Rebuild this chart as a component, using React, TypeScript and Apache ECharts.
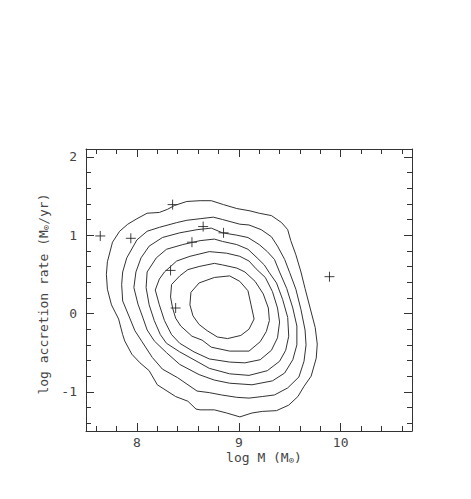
import React, { useEffect, useRef } from "react";
import * as echarts from "echarts";

const xMin = 7.5;
const xMax = 10.7;
const yMin = -1.5;
const yMax = 2.1;

const xMajorTicks = [8, 9, 10];
const xMinorTicks = [7.6, 7.8, 8.2, 8.4, 8.6, 8.8, 9.2, 9.4, 9.6, 9.8, 10.2, 10.4, 10.6];
const yMajorTicks = [-1, 0, 1, 2];
const yMinorTicks = [-1.4, -1.2, -0.8, -0.6, -0.4, -0.2, 0.2, 0.4, 0.6, 0.8, 1.2, 1.4, 1.6, 1.8];

const xTitle = "log M (M{s|⊙})";
const yTitle = "log accretion rate (M{s|⊙}/yr)";

const contour1 = [
  [7.70, 0.50], [7.71, 0.66], [7.76, 0.91], [7.83, 1.05], [7.91, 1.14], [8.00, 1.21],
  [8.10, 1.28], [8.22, 1.29], [8.30, 1.33], [8.37, 1.38], [8.49, 1.43], [8.62, 1.44],
  [8.73, 1.44], [8.85, 1.39], [8.98, 1.34], [9.11, 1.31], [9.20, 1.28], [9.32, 1.25],
  [9.42, 1.16], [9.48, 1.07], [9.51, 0.93], [9.56, 0.75], [9.61, 0.53], [9.65, 0.32],
  [9.70, 0.07], [9.75, -0.18], [9.77, -0.39], [9.76, -0.57], [9.71, -0.80], [9.64, -0.93],
  [9.58, -1.06], [9.49, -1.17], [9.37, -1.24], [9.23, -1.25], [9.13, -1.27], [9.01, -1.32],
  [8.88, -1.27], [8.76, -1.23], [8.62, -1.23], [8.58, -1.22], [8.50, -1.12], [8.38, -1.06],
  [8.20, -0.91], [8.12, -0.73], [8.03, -0.63], [7.95, -0.52], [7.88, -0.35], [7.86, -0.27],
  [7.82, -0.07], [7.75, 0.11], [7.71, 0.31], [7.70, 0.50]
];
const contour2 = [
  [7.86, 0.53], [7.90, 0.71], [8.00, 0.94], [8.10, 1.05], [8.22, 1.10], [8.39, 1.16],
  [8.49, 1.19], [8.62, 1.21], [8.75, 1.23], [8.84, 1.20], [9.01, 1.14], [9.10, 1.13],
  [9.22, 1.07], [9.32, 0.98], [9.38, 0.86], [9.45, 0.69], [9.50, 0.52], [9.56, 0.31],
  [9.61, 0.05], [9.65, -0.21], [9.66, -0.40], [9.64, -0.61], [9.59, -0.81], [9.48, -0.95],
  [9.35, -1.04], [9.23, -1.06], [9.10, -1.08], [8.98, -1.07], [8.83, -1.04], [8.71, -1.01],
  [8.59, -0.99], [8.40, -0.82], [8.25, -0.71], [8.15, -0.56], [8.05, -0.36], [7.98, -0.22],
  [7.93, -0.06], [7.86, 0.16], [7.85, 0.37], [7.86, 0.53]
];
const contour3 = [
  [7.99, 0.53], [8.04, 0.71], [8.12, 0.86], [8.25, 0.97], [8.42, 1.03], [8.59, 1.07],
  [8.73, 1.09], [8.84, 1.03], [8.98, 1.00], [9.09, 0.97], [9.20, 0.88], [9.28, 0.79],
  [9.35, 0.69], [9.40, 0.53], [9.47, 0.32], [9.53, 0.07], [9.57, -0.16], [9.57, -0.40],
  [9.53, -0.59], [9.45, -0.76], [9.33, -0.86], [9.13, -0.91], [8.91, -0.89], [8.76, -0.85],
  [8.61, -0.78], [8.42, -0.65], [8.29, -0.50], [8.17, -0.35], [8.10, -0.21], [8.06, -0.06],
  [8.01, 0.12], [7.97, 0.33], [7.99, 0.53]
];
const contour4 = [
  [8.10, 0.53], [8.19, 0.71], [8.29, 0.82], [8.45, 0.88], [8.62, 0.93], [8.76, 0.95],
  [8.84, 0.92], [8.98, 0.88], [9.09, 0.82], [9.18, 0.71], [9.25, 0.62], [9.30, 0.52],
  [9.37, 0.39], [9.43, 0.18], [9.48, -0.05], [9.49, -0.29], [9.46, -0.47], [9.40, -0.61],
  [9.28, -0.73], [9.10, -0.79], [8.91, -0.77], [8.71, -0.70], [8.60, -0.62], [8.42, -0.49],
  [8.29, -0.38], [8.23, -0.27], [8.17, -0.09], [8.12, 0.11], [8.09, 0.33], [8.10, 0.53]
];
const contour5 = [
  [8.22, 0.44], [8.27, 0.53], [8.39, 0.67], [8.52, 0.73], [8.71, 0.79], [8.88, 0.77],
  [9.01, 0.73], [9.10, 0.67], [9.17, 0.57], [9.26, 0.46], [9.33, 0.28], [9.38, 0.07],
  [9.40, -0.11], [9.38, -0.31], [9.32, -0.47], [9.21, -0.59], [9.06, -0.63], [8.91, -0.62],
  [8.71, -0.58], [8.56, -0.49], [8.42, -0.38], [8.34, -0.27], [8.27, -0.09], [8.22, 0.11],
  [8.18, 0.30], [8.22, 0.44]
];
const contour6 = [
  [8.34, 0.37], [8.42, 0.48], [8.50, 0.56], [8.61, 0.60], [8.76, 0.64], [8.84, 0.62],
  [8.98, 0.58], [9.06, 0.53], [9.16, 0.41], [9.24, 0.25], [9.29, 0.07], [9.30, -0.09],
  [9.27, -0.23], [9.21, -0.36], [9.10, -0.48], [8.91, -0.48], [8.73, -0.43], [8.64, -0.34],
  [8.54, -0.29], [8.43, -0.16], [8.38, -0.06], [8.35, 0.07], [8.33, 0.21], [8.34, 0.37]
];
const contour7 = [
  [8.76, 0.46], [8.91, 0.48], [9.01, 0.41], [9.09, 0.29], [9.12, 0.11], [9.15, -0.07],
  [9.10, -0.20], [9.02, -0.28], [8.89, -0.32], [8.79, -0.30], [8.69, -0.22], [8.61, -0.14],
  [8.55, -0.03], [8.52, 0.11], [8.53, 0.27], [8.61, 0.39], [8.76, 0.46]
];
const contours = [contour1, contour2, contour3, contour4, contour5, contour6, contour7];

const objects = [
  [7.64, 0.99], [7.94, 0.96], [8.35, 1.39], [8.65, 1.11], [8.85, 1.03],
  [8.54, 0.91], [8.33, 0.55], [8.38, 0.07], [9.89, 0.47]
];

const FONT = "DejaVu Sans Mono";
const AXIS_COLOR = "#333";
const TEXT_COLOR = "#444";

export default function App() {
  const ref = useRef<HTMLDivElement>(null);

  useEffect(() => {
    document.body.style.margin = "0";
    const chart = echarts.init(ref.current!, null, { renderer: "svg" });

    const baseX = (position: string, ticks: number[], len: number, withLine: boolean, withLabel: boolean) => ({
      type: "value",
      min: xMin,
      max: xMax,
      position,
      axisLine: { show: withLine, onZero: false, lineStyle: { color: AXIS_COLOR, width: 1 } },
      axisTick: { show: true, inside: true, length: len, customValues: ticks, lineStyle: { color: AXIS_COLOR, width: 1 } },
      axisLabel: {
        show: withLabel,
        customValues: ticks,
        margin: 5,
        fontFamily: FONT,
        fontSize: 13,
        color: TEXT_COLOR,
      },
      splitLine: { show: false },
    });
    const baseY = (position: string, ticks: number[], len: number, withLine: boolean, withLabel: boolean) => ({
      type: "value",
      min: yMin,
      max: yMax,
      position,
      axisLine: { show: withLine, onZero: false, lineStyle: { color: AXIS_COLOR, width: 1 } },
      axisTick: { show: true, inside: true, length: len, customValues: ticks, lineStyle: { color: AXIS_COLOR, width: 1 } },
      axisLabel: {
        show: withLabel,
        customValues: ticks,
        margin: 9,
        fontFamily: FONT,
        fontSize: 13,
        color: TEXT_COLOR,
      },
      splitLine: { show: false },
    });

    const series: any[] = contours.map((c, i) => ({
      type: "line",
      name: "contour" + (i + 1),
      xAxisIndex: 0,
      yAxisIndex: 0,
      data: c,
      showSymbol: false,
      symbol: "none",
      smooth: false,
      lineStyle: { color: "#333", width: 1 },
      silent: true,
    }));
    series.push({
      type: "scatter",
      name: "objects",
      xAxisIndex: 0,
      yAxisIndex: 0,
      data: objects,
      symbol: "path://M5,0L5,10M0,5L10,5",
      symbolSize: 10,
      itemStyle: { color: "transparent", borderColor: "#111", borderWidth: 1 },
    });

    const rich = { s: { fontFamily: FONT, fontSize: 9, fill: TEXT_COLOR, padding: [6, 0, 0, 0] } };

    chart.setOption({
      animation: false,
      backgroundColor: "#fff",
      grid: { left: 86, top: 149, width: 326, height: 282, containLabel: false, outerBoundsMode: "none" },
      xAxis: [
        baseX("bottom", xMajorTicks, 8, true, true),
        baseX("bottom", xMinorTicks, 5, false, false),
        baseX("top", xMajorTicks, 8, true, false),
        baseX("top", xMinorTicks, 5, false, false),
      ],
      yAxis: [
        baseY("left", yMajorTicks, 8, true, true),
        baseY("left", yMinorTicks, 5, false, false),
        baseY("right", yMajorTicks, 8, true, false),
        baseY("right", yMinorTicks, 5, false, false),
      ],
      series,
      graphic: [
        {
          type: "text",
          x: 264,
          y: 457,
          style: {
            text: xTitle,
            font: `13px '${FONT}'`,
            fill: TEXT_COLOR,
            align: "center",
            verticalAlign: "middle",
            rich,
          },
        },
        {
          type: "text",
          x: 43,
          y: 294,
          rotation: Math.PI / 2,
          style: {
            text: yTitle,
            font: `13px '${FONT}'`,
            fill: TEXT_COLOR,
            align: "center",
            verticalAlign: "middle",
            rich,
          },
        },
      ],
    });

    return () => chart.dispose();
  }, []);

  return <div ref={ref} style={{ width: 471, height: 499 }} />;
}
